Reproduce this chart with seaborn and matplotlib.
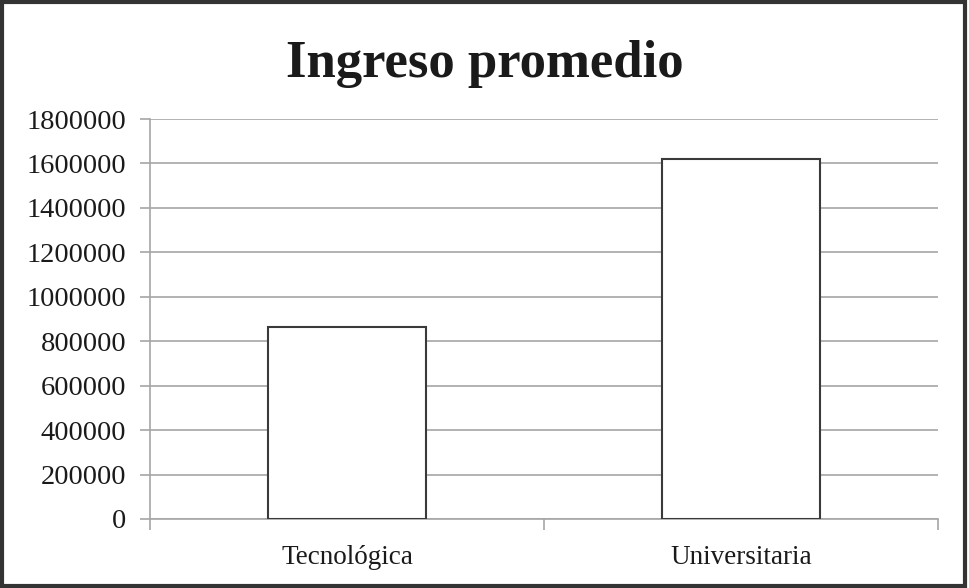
import matplotlib
matplotlib.use("Agg")
import matplotlib.pyplot as plt
from matplotlib.patches import Rectangle
import seaborn as sns
import pandas as pd

# datos
categorias = ["Tecnológica", "Universitaria"]
ingresos = [865000, 1620000]
ticks_y = [0, 200000, 400000, 600000, 800000, 1000000, 1200000, 1400000, 1600000, 1800000]

df = pd.DataFrame({"Tipo": categorias, "Ingreso": ingresos})

sns.set_style("white")
plt.rcParams['font.family'] = ['Liberation Serif', 'DejaVu Serif']

fig = plt.figure(figsize=(9.69, 5.88), dpi=100)
ax = fig.add_axes([150/969, 1 - 519/588, (938-150)/969, 400/588])

sns.barplot(data=df, x="Tipo", y="Ingreso", color="white", edgecolor="#3a3a3a",
            linewidth=1.5, width=0.4, ax=ax, zorder=3)

ax.set_xlim(-0.5, 1.5)
ax.set_ylim(0, 1800000)
ax.set_yticks(ticks_y)
ax.set_yticklabels([str(t) for t in ticks_y], fontsize=20.5, color="#1a1a1a")
ax.yaxis.grid(True, color="#a6a6a6", linewidth=1.2, zorder=0)
ax.set_axisbelow(True)

ax.set_xticks([0, 1])
ax.set_xticklabels(categorias, fontsize=19.5, color="#1a1a1a")
ax.set_xticks([-0.5, 0.5, 1.5], minor=True)
ax.tick_params(axis="x", which="major", bottom=True, length=0, pad=19)
ax.tick_params(axis="x", which="minor", bottom=True, length=8, width=1.2, color="#a6a6a6", direction="out")
ax.tick_params(axis="y", left=True, length=7, width=1.2, color="#a6a6a6", direction="out", pad=10)

for s in ["top", "right"]:
    ax.spines[s].set_visible(False)
for s in ["left", "bottom"]:
    ax.spines[s].set_color("#a6a6a6")
    ax.spines[s].set_linewidth(1.2)

ax.set_xlabel("")
ax.set_ylabel("")

fig.text(0.5, 1 - 64/588, "Ingreso promedio", ha="center", va="center",
         fontsize=38, fontweight="bold", color="#1a1a1a")

fig.patches.append(Rectangle((0.002, 0.004), 0.994, 0.993, transform=fig.transFigure,
                             fill=False, edgecolor="#333333", linewidth=3))

fig.savefig("out.png", dpi=100)
